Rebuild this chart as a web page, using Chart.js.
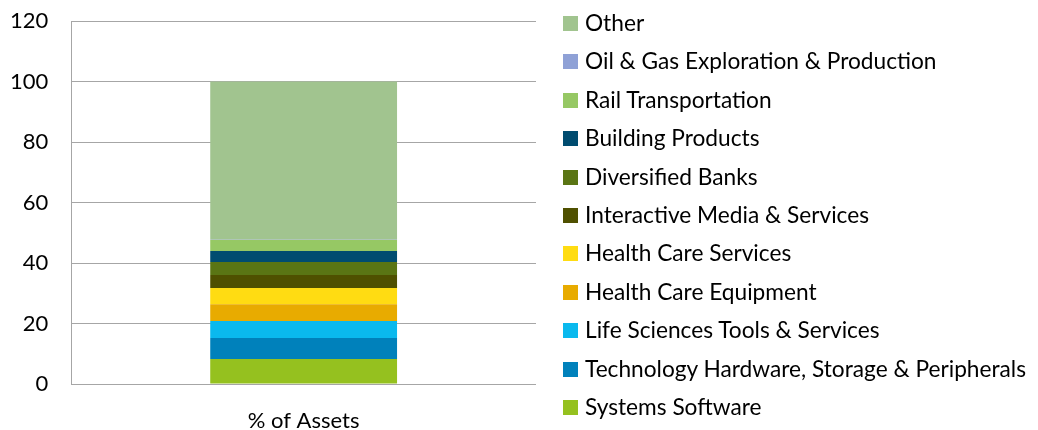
<!DOCTYPE html>
<html>
<head>
<meta charset="utf-8">
<script src="https://cdn.jsdelivr.net/npm/chart.js@4"></script>
<style>
  html, body { margin: 0; padding: 0; background: #fff; }
  #wrap { width: 1038px; height: 430px; position: relative; font-family: Lato, Calibri, Carlito, sans-serif; }
  #legend { position: absolute; left: 563px; top: 0; margin: 0; padding: 0; list-style: none; }
  #legend li { position: absolute; left: 0; height: 22px; line-height: 22px; font-size: 22.7px; white-space: nowrap; color: #000; }
  #legend li span.box { position: absolute; left: 0; top: 4px; width: 15px; height: 15px; }
  #legend li span.txt { position: absolute; left: 22px; top: 0; }
</style>
</head>
<body>
<div id="wrap"><canvas id="assetChart"></canvas><ul id="legend"></ul></div>
<script>
// Sector weights, bottom of the stack first
const categories = ['% of Assets'];
const sectors = [
  'Systems Software',
  'Technology Hardware, Storage & Peripherals',
  'Life Sciences Tools & Services',
  'Health Care Equipment',
  'Health Care Services',
  'Interactive Media & Services',
  'Diversified Banks',
  'Building Products',
  'Rail Transportation',
  'Oil & Gas Exploration & Production',
  'Other'
];
const weights = [8.3, 6.9, 5.6, 5.6, 5.3, 4.3, 4.3, 3.7, 3.6, 0.1, 52.3];
const colors = [
  '#95c11f', '#0081bb', '#0ab9ee', '#e8ab00', '#ffdc12',
  '#4f5000', '#5a7514', '#004c70', '#96c864', '#8fa1d6', '#a1c48f'
];
const yTicks = [0, 20, 40, 60, 80, 100, 120];

const FONT = 'Lato, Calibri, Carlito, sans-serif';

const datasets = sectors.map((name, i) => ({
  label: name,
  data: [weights[i]],
  backgroundColor: colors[i],
  borderWidth: 0,
  categoryPercentage: 1,
  barPercentage: 0.402
}));

const ctx = document.getElementById('assetChart').getContext('2d');
const chart = new Chart(ctx, {
  type: 'bar',
  data: { labels: categories, datasets: datasets },
  options: {
    responsive: true,
    maintainAspectRatio: false,
    animation: false,
    layout: { padding: { top: 21, left: -13, right: 502, bottom: -28 } },
    scales: {
      x: {
        stacked: true,
        grid: { display: false, drawTicks: false },
        border: { display: false },
        ticks: { color: '#000', font: { family: FONT, size: 22, lineHeight: 1 }, padding: 26 }
      },
      y: {
        stacked: true,
        min: 0,
        max: 120,
        afterBuildTicks: axis => { axis.ticks = yTicks.map(v => ({ value: v })); },
        // let the layout padding alone decide where the plot starts and ends
        afterFit: axis => { axis.paddingTop = 0; axis.paddingBottom = 0; },
        grid: { color: '#a6a6a6', lineWidth: 1, drawTicks: false },
        border: { display: true, color: '#a6a6a6' },
        ticks: { color: '#000', font: { family: FONT, size: 22, lineHeight: 1 }, padding: 23 }
      }
    },
    plugins: {
      legend: { display: false },
      tooltip: { enabled: false }
    }
  }
});

// Legend built from the chart's datasets, top row = last stacked series
const legendEl = document.getElementById('legend');
chart.data.datasets.slice().reverse().forEach((ds, i) => {
  const li = document.createElement('li');
  li.style.top = (12 + i * 38.4) + 'px';
  li.innerHTML = '<span class="box"></span><span class="txt"></span>';
  li.querySelector('.box').style.background = ds.backgroundColor;
  li.querySelector('.txt').textContent = ds.label;
  legendEl.appendChild(li);
});
</script>
</body>
</html>
